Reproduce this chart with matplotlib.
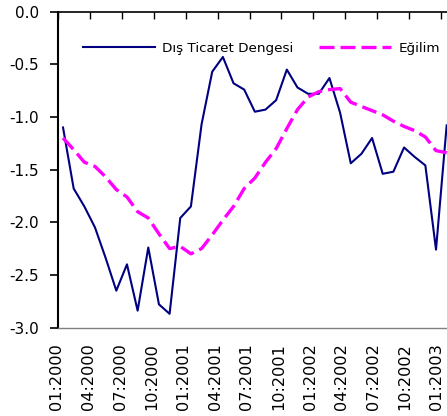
import numpy as np
import matplotlib
matplotlib.use("Agg")
import matplotlib.pyplot as plt
import matplotlib.transforms as mtransforms
from matplotlib.ticker import FuncFormatter

# monthly categories 01:2000 .. 01:2003
months = ["%02d:%d" % (m, y) for y in (2000, 2001, 2002) for m in range(1, 13)] + ["01:2003"]

# Dis Ticaret Dengesi
balance = [-1.10, -1.68, -1.85, -2.05, -2.34, -2.65, -2.40, -2.84, -2.24, -2.78,
           -2.87, -1.96, -1.85, -1.07, -0.57, -0.43, -0.68, -0.74, -0.95, -0.93,
           -0.84, -0.55, -0.72, -0.78, -0.78, -0.63, -0.96, -1.44, -1.35, -1.20,
           -1.54, -1.52, -1.29, -1.38, -1.46, -2.26, -1.08]

# Egilim (trend)
trend = [-1.20, -1.31, -1.43, -1.47, -1.57, -1.69, -1.76, -1.90, -1.96, -2.11,
         -2.25, -2.23, -2.30, -2.25, -2.12, -1.98, -1.85, -1.68, -1.58, -1.43,
         -1.30, -1.11, -0.93, -0.81, -0.76, -0.74, -0.73, -0.86, -0.90, -0.94,
         -0.98, -1.04, -1.09, -1.13, -1.19, -1.32, -1.34]

yticks = [0.0, -0.5, -1.0, -1.5, -2.0, -2.5, -3.0]

fig = plt.figure(figsize=(4.47, 4.16), dpi=100)
ax = fig.add_axes([57.7 / 447, 1 - 327.5 / 416, 394.3 / 447, 315.8 / 416])

x = np.arange(len(months))
ax.plot(x, balance, color="#000080", lw=1.5, label="Dış Ticaret Dengesi")
ax.plot(x, trend, color="#FF00FF", lw=2.4, dashes=(4.5, 1.8), label="Eğilim")

ax.set_xlim(-0.5, len(months) - 0.5)
ax.set_ylim(-3.0, 0.0)

# y axis
ax.set_yticks(yticks)
ax.yaxis.set_major_formatter(FuncFormatter(lambda v, p: "%.1f" % v))
ax.tick_params(axis="y", direction="out", length=6, width=1.2, pad=7.5,
               labelsize=11, color="black")

# category axis sits on top (value 0), labels at the bottom
pos = np.arange(0, len(months), 3) - 0.5
ax.set_xticks(pos)
ax.set_xticklabels([months[i] for i in range(0, len(months), 3)], rotation=90,
                   fontsize=11.6)
ax.tick_params(axis="x", top=True, bottom=False, labeltop=False, labelbottom=True,
               direction="in", length=5, width=1.0, pad=11)
# nudge labels a little to the left so the last one fits
for i, lab in enumerate(ax.get_xticklabels()):
    dx = -1.0 - 3.5 * i / 12
    lab.set_transform(lab.get_transform() +
                      mtransforms.ScaledTranslation(dx / 100, 0, fig.dpi_scale_trans))

ax.spines["right"].set_visible(False)
ax.spines["left"].set_linewidth(1.5)
ax.spines["top"].set_linewidth(1.2)
ax.spines["bottom"].set_color("#808080")
ax.spines["bottom"].set_linewidth(1.0)

leg = ax.legend(loc="center left", bbox_to_anchor=(83 / 447, 1 - 48.5 / 416),
                bbox_transform=fig.transFigure, ncol=2, frameon=False,
                fontsize=9.7, handlelength=5.35, handletextpad=0.55,
                columnspacing=1.85, borderpad=0, borderaxespad=0)

fig.savefig("out.png", dpi=100)
